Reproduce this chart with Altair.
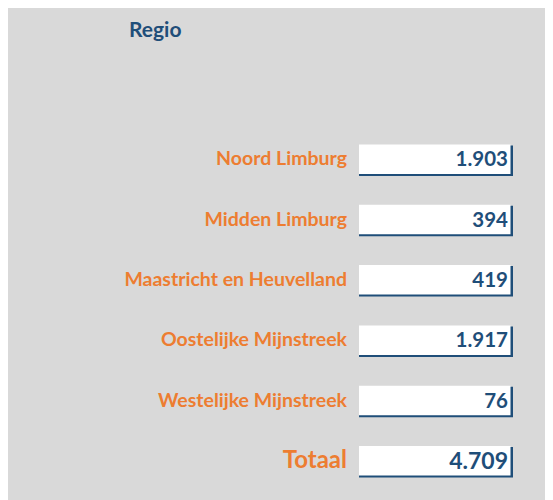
import altair as alt
import pandas as pd

title = "Regio"
regions = ["Noord Limburg", "Midden Limburg", "Maastricht en Heuvelland",
           "Oostelijke Mijnstreek", "Westelijke Mijnstreek"]
values = [1903, 394, 419, 1917, 76]
total_label = "Totaal"

cats = regions + [total_label]
vals = values + [sum(values)]
df = pd.DataFrame({
    "regio": cats,
    "waarde": vals,
    "txt": [f"{v:,}".replace(",", ".") for v in vals],
    "is_total": [False] * len(regions) + [True],
})

FONT = "Lato"
BLUE = "#1f4e79"
ORANGE = "#ed7d31"

y = alt.Y("regio:N", sort=cats, axis=None,
          scale=alt.Scale(range=[121, 483], padding=0))

base = alt.Chart(df)

shadow = base.mark_bar(height=30.5, yOffset=1.5, color=BLUE).encode(
    y=y, x=alt.value(351), x2=alt.value(505))
box = base.mark_bar(height=29.5, color="white").encode(
    y=y, x=alt.value(351), x2=alt.value(502.5))

labels = base.transform_filter("!datum.is_total").mark_text(
    align="right", baseline="middle", font=FONT, fontWeight="bold",
    fontSize=19.5, color=ORANGE).encode(
    y=y, x=alt.value(339), text="regio:N")
total_lab = base.transform_filter("datum.is_total").mark_text(
    align="right", baseline="middle", font=FONT, fontWeight="bold",
    fontSize=24, color=ORANGE).encode(
    y=y, x=alt.value(339), text="regio:N")

nums = base.transform_filter("!datum.is_total").mark_text(
    align="right", baseline="middle", font=FONT, fontWeight="bold",
    fontSize=20.5, color=BLUE, dy=1).encode(
    y=y, x=alt.value(500), text="txt:N")
total_num = base.transform_filter("datum.is_total").mark_text(
    align="right", baseline="middle", font=FONT, fontWeight="bold",
    fontSize=23, color=BLUE, dy=1).encode(
    y=y, x=alt.value(500), text="txt:N")

head = alt.Chart(pd.DataFrame({"t": [title]})).mark_text(
    align="left", baseline="middle", font=FONT, fontWeight="bold",
    fontSize=21, color=BLUE).encode(
    x=alt.value(121), y=alt.value(23), text="t:N")

chart = alt.layer(shadow, box, labels, total_lab, nums, total_num, head).properties(
    width=537, height=492, padding=0, background="#d9d9d9",
    autosize=alt.AutoSizeParams(type="none"),
).configure_view(stroke=None)

chart.save("out.html", embed_options={"renderer": "svg", "actions": False})
